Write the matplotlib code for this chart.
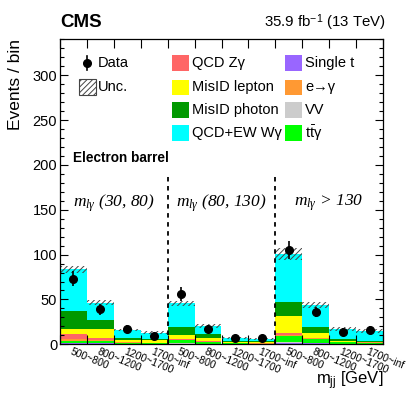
import matplotlib
matplotlib.use("Agg")
import matplotlib.pyplot as plt
import matplotlib.patches as patches
from matplotlib.lines import Line2D
from matplotlib.ticker import MultipleLocator, FixedLocator, NullFormatter

plt.rcParams["font.family"] = ["Liberation Sans", "DejaVu Sans"]
plt.rcParams["mathtext.fontset"] = "custom"
plt.rcParams["mathtext.it"] = "Liberation Serif:italic"
plt.rcParams["mathtext.rm"] = "Liberation Serif"
plt.rcParams["mathtext.sf"] = "Liberation Sans"
plt.rcParams["hatch.linewidth"] = 0.7

# bins: 3 m_lγ regions x 4 m_jj bins
mjj_bins = ["500~800", "800~1200", "1200~1700", "1700~inf"] * 3
regions = [r"$m_{l\gamma}$ (30, 80)", r"$m_{l\gamma}$ (80, 130)", r"$m_{l\gamma}$ > 130"]

# stacked backgrounds, bottom -> top
single_t = [1.0, 1.0, 0.5, 0.3, 0.8, 0.5, 0.2, 0.2, 1.5, 1.0, 0.5, 0.4]
vv       = [0.5, 0.5, 0.3, 0.2, 0.5, 0.3, 0.1, 0.1, 1.0, 0.5, 0.3, 0.2]
ttg      = [2.5, 2.5, 1.0, 0.5, 3.0, 1.5, 0.6, 0.4, 6.5, 4.0, 1.5, 1.2]
e_to_g   = [1.5, 1.0, 0.5, 0.4, 1.0, 0.7, 0.3, 0.3, 1.5, 1.0, 0.4, 0.4]
qcd_zg   = [5.5, 1.5, 0.5, 0.4, 0.5, 0.3, 0.2, 0.2, 1.7, 0.9, 0.2, 0.2]
misid_l  = [6.4, 10.5, 1.5, 2.5, 4.6, 3.4, 1.1, 1.8, 19.3, 5.6, 0.8, 0.6]
misid_g  = [20.0, 10.0, 3.0, 1.5, 8.5, 4.3, 1.5, 0.8, 15.5, 6.6, 1.8, 1.0]
wg       = [46.1, 19.3, 8.6, 7.2, 26.7, 9.7, 2.7, 2.2, 53.5, 24.4, 11.5, 10.5]
unc      = [4.0, 3.0, 1.5, 1.5, 3.0, 2.0, 1.0, 1.0, 6.5, 3.5, 2.0, 2.0]

data     = [73, 39, 17, 9, 56, 17, 7, 7, 105, 36, 14, 16]
data_err = [8.5, 6.2, 4.1, 3.0, 7.5, 4.1, 2.6, 2.6, 10.2, 6.0, 3.7, 4.0]

stack = [
    ("Single t", single_t, "#9966ff"),
    ("VV", vv, "#cccccc"),
    (r"$\mathsf{t\bar{t}}$γ", ttg, "#00ff00"),
    ("e→γ", e_to_g, "#ff9933"),
    ("QCD Zγ", qcd_zg, "#ff6666"),
    ("MisID lepton", misid_l, "#ffff00"),
    ("MisID photon", misid_g, "#009900"),
    ("QCD+EW Wγ", wg, "#00ffff"),
]

W, H = 407, 395
fig = plt.figure(figsize=(W / 100, H / 100), dpi=100)
ax_l, ax_r, ax_t, ax_b = 60, 383, 39.3, 344.3
ax = fig.add_axes([ax_l / W, 1 - ax_b / H, (ax_r - ax_l) / W, (ax_b - ax_t) / H])

n = len(data)
x = [i + 0.5 for i in range(n)]
bottom = [0.0] * n
for name, vals, col in stack:
    ax.bar(x, vals, width=1.0, bottom=bottom, color=col, linewidth=0, zorder=1)
    bottom = [b + v for b, v in zip(bottom, vals)]
total = bottom

ax.bar(x, [2 * u for u in unc], width=1.0, bottom=[t - u for t, u in zip(total, unc)],
       fill=False, hatch="//////", edgecolor="#444444", linewidth=0, zorder=2)

ax.errorbar(x, data, yerr=data_err, fmt="o", color="black", ms=5.5, elinewidth=1.2,
            capsize=0, zorder=5)

# region separators
ax.vlines([4, 8], 0, 190, colors="black", linestyles=(0, (2.5, 2.5)), linewidth=1.3, zorder=4)

ax.set_xlim(0, n)
ax.set_ylim(0, 340)

# ticks
ax.xaxis.set_major_locator(FixedLocator(range(n + 1)))
ax.xaxis.set_major_formatter(NullFormatter())
ax.yaxis.set_major_locator(MultipleLocator(50))
ax.yaxis.set_minor_locator(MultipleLocator(10))
ax.tick_params(axis="x", which="major", direction="in", top=True, bottom=True, length=6.5, width=0.8)
ax.tick_params(axis="y", which="major", direction="in", left=True, right=True, length=6, width=0.8,
               labelsize=10.5, pad=2)
ax.tick_params(axis="y", which="minor", direction="in", left=True, right=True, length=3, width=0.8)
for sp in ax.spines.values():
    sp.set_linewidth(0.9)

for xi, lab in zip(x, mjj_bins):
    ax.text(xi - 0.05, -3, lab, rotation=-22, rotation_mode="anchor", ha="left", va="top",
            fontsize=7.5, transform=ax.transData, clip_on=False)

# region labels
for xc, lab in zip([2, 6, 10], regions):
    ax.text(xc, 0.463, lab, transform=ax.get_xaxis_transform(), ha="center", va="center",
            fontsize=12.5, family="Liberation Serif", style="italic")

def axc(px, py):
    return (px - ax_l) / (ax_r - ax_l), (ax_b - py) / (ax_b - ax_t)

ax.text(*axc(73, 158), "Electron barrel", transform=ax.transAxes, ha="left", va="center",
        fontsize=9.8, weight="bold")

# legend drawn by hand
rows = [63, 87, 110, 133]
bw, bh = 17, 15
# Data entry
dx, dy = axc(87, rows[0])
ax.add_line(Line2D([dx, dx], [axc(0, rows[0] - 7)[1], axc(0, rows[0] + 7)[1]], color="black",
                   lw=1.2, transform=ax.transAxes))
ax.add_line(Line2D([dx], [dy], marker="o", ms=5.5, color="black", transform=ax.transAxes))
ax.text(*axc(98, rows[0]), "Data", transform=ax.transAxes, ha="left", va="center", fontsize=10.5)
# Unc entry
ux, uy = axc(79, rows[1] + 8)
ax.add_patch(patches.Rectangle((ux, uy), bw / (ax_r - ax_l), 16 / (ax_b - ax_t), transform=ax.transAxes,
                               fill=False, hatch="//////", edgecolor="#444444", lw=0.8))
ax.text(*axc(98, rows[1]), "Unc.", transform=ax.transAxes, ha="left", va="center", fontsize=10.5)

legend_cols = [
    (172, 192, ["QCD Zγ", "MisID lepton", "MisID photon", "QCD+EW Wγ"]),
    (285, 305, ["Single t", "e→γ", "VV", r"$\mathsf{t\bar{t}}$γ"]),
]
colors = {name: col for name, _, col in stack}
for bx, tx, names in legend_cols:
    for r, name in zip(rows, names):
        x0, y0 = axc(bx, r + bh / 2)
        ax.add_patch(patches.Rectangle((x0, y0), bw / (ax_r - ax_l), bh / (ax_b - ax_t),
                                       transform=ax.transAxes, facecolor=colors[name],
                                       edgecolor="none", zorder=3))
        ax.text(*axc(tx, r), name, transform=ax.transAxes, ha="left", va="center", fontsize=10.5)

# header and axis labels
fig.text(ax_l / W, 1 - 27.3 / H, "CMS", ha="left", va="baseline", fontsize=13.5, weight="bold")
fig.text(386 / W, 1 - 27.3 / H, r"35.9 fb$^{\mathsf{-1}}$ (13 TeV)", ha="right", va="baseline", fontsize=10.8)
fig.text(8 / W, 1 - 39.5 / H, "Events / bin", rotation=90, ha="left", va="top", fontsize=12.5)
fig.text(ax_r / W, 1 - 385 / H, r"m$_{\mathsf{jj}}$ [GeV]", ha="right", va="baseline", fontsize=12)

fig.savefig("out.png", dpi=100)
